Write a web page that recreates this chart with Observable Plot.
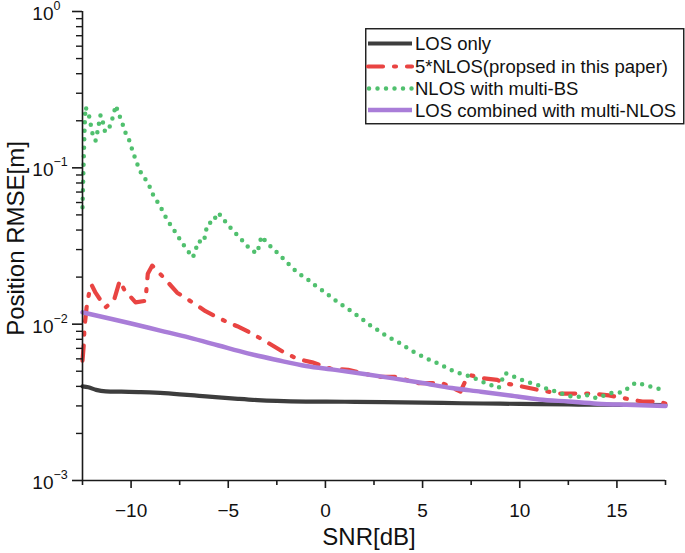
<!DOCTYPE html>
<html>
<head>
<meta charset="utf-8">
<script src="https://cdn.jsdelivr.net/npm/d3@7"></script>
<script src="https://cdn.jsdelivr.net/npm/@observablehq/plot@0.6"></script>
<style>
  html, body { margin: 0; padding: 0; background: #fff; }
  #wrap { position: relative; width: 685px; height: 553px; font-family: "Liberation Sans", Arial, sans-serif; }
  #legend { position: absolute; left: 365px; top: 28px; }
</style>
</head>
<body>
<div id="wrap"></div>
<script>
// ---- data ----
const seriesNames = ["LOS only", "5*NLOS(propsed in this paper)", "NLOS with multi-BS", "LOS combined with multi-NLOS"];
const seriesColors = ["#3d3d3d", "#e94442", "#50c06e", "#a97dd8"];

const losSnr = [-12.5, -12.2, -11.8, -11.3, -10.5, -9.5, -8.5, -7.5, -6.5, -5.5, -4.5, -3.5, -2.5, -1, 1, 3, 5, 7, 9, 11, 13, 15, 17.5];
const losVal = [0.0040, 0.00395, 0.0038, 0.00372, 0.0037, 0.00368, 0.00363, 0.00356, 0.00348, 0.0034, 0.00333, 0.00327, 0.00323, 0.0032, 0.00319, 0.00317, 0.00315, 0.00312, 0.0031, 0.00308, 0.00306, 0.00305, 0.00304];

const nlos5Snr = [-12.5, -12.43, -12.4, -12.29, -12.12, -12.04, -11.83, -11.32, -10.89, -10.58, -10.34, -9.77, -9.26, -9.14, -8.91, -8.23, -7.63, -6.85, -6.17, -5.4, -4.54, -3.85, -3.03, -2.22, -1.45, -0.68, 0.26, 1.17, 2.07, 2.84, 3.7, 4.64, 5.5, 6.01, 6.95, 7.3, 7.51, 8.14, 8.84, 9.18, 10.09, 10.94, 12.0, 12.7, 13.65, 14.59, 15.7, 16.31, 17.21, 17.5];
const nlos5Val = [0.00585, 0.0075, 0.0095, 0.0128, 0.0169, 0.0179, 0.0159, 0.0128, 0.0141, 0.019, 0.0165, 0.0138, 0.0141, 0.021, 0.0237, 0.0193, 0.0159, 0.0138, 0.0121, 0.0108, 0.0097, 0.0088, 0.0077, 0.0067, 0.006, 0.0057, 0.0052, 0.0051, 0.0048, 0.0046, 0.0046, 0.0042, 0.0042, 0.0042, 0.0037, 0.0046, 0.0047, 0.0045, 0.0044, 0.0042, 0.004, 0.0038, 0.0036, 0.0036, 0.0036, 0.0035, 0.0033, 0.0032, 0.0032, 0.0031];

const multiBsSnr = [-12.5, -12.45, -12.4, -12.35, -12.18, -12.09, -12.0, -11.83, -11.74, -11.57, -11.46, -11.35, -11.2, -11.02, -10.89, -10.79, -10.63, -10.46, -10.32, -10.12, -9.98, -9.82, -9.67, -9.51, -9.24, -9.0, -8.83, -8.57, -8.35, -8.14, -7.88, -7.63, -7.37, -7.11, -6.82, -6.68, -6.55, -6.26, -6.17, -6.08, -5.91, -5.74, -5.6, -5.36, -5.1, -4.8, -4.46, -4.15, -3.85, -3.51, -3.39, -3.29, -2.96, -2.62, -2.27, -1.93, -1.6, -1.23, -0.83, -0.46, -0.08, 0.3, 0.68, 1.09, 1.46, 1.84, 2.22, 2.62, 3.01, 3.42, 3.8, 4.18, 4.59, 5.0, 5.43, 5.87, 6.3, 6.75, 7.19, 7.61, 8.05, 8.47, 8.92, 9.23, 9.67, 10.09, 10.52, 10.98, 11.42, 11.84, 12.31, 12.72, 13.08, 13.48, 13.94, 14.37, 14.79, 15.23, 15.65, 15.96, 16.41, 16.85, 17.31];
const multiBsVal = [0.056, 0.1, 0.17, 0.245, 0.221, 0.193, 0.168, 0.149, 0.168, 0.218, 0.198, 0.172, 0.171, 0.195, 0.223, 0.251, 0.221, 0.195, 0.171, 0.153, 0.135, 0.118, 0.105, 0.094, 0.0836, 0.074, 0.0653, 0.0588, 0.0522, 0.0464, 0.0416, 0.0372, 0.0331, 0.0298, 0.0267, 0.0298, 0.0339, 0.0334, 0.0381, 0.0433, 0.0448, 0.0448, 0.0513, 0.0496, 0.0443, 0.0403, 0.0363, 0.033, 0.0298, 0.0285, 0.0326, 0.0365, 0.0326, 0.0298, 0.027, 0.0245, 0.0223, 0.0205, 0.019, 0.0174, 0.0162, 0.0149, 0.0137, 0.0127, 0.0118, 0.0109, 0.01, 0.00929, 0.00861, 0.00804, 0.0076, 0.00708, 0.0066, 0.00622, 0.00586, 0.00556, 0.0052, 0.0049, 0.00475, 0.00454, 0.0043, 0.0041, 0.00391, 0.00487, 0.00463, 0.00441, 0.00422, 0.00405, 0.00385, 0.00371, 0.00355, 0.00343, 0.00343, 0.00351, 0.00337, 0.00351, 0.00366, 0.00366, 0.00395, 0.00422, 0.00409, 0.00395, 0.00381];

const combSnr = [-12.5, -11, -10, -8.5, -7, -5.5, -4, -2.5, -1, 0.5, 2, 3.5, 5, 6.5, 8, 9.5, 11, 12.5, 14, 15.5, 17.5];
const combVal = [0.0119, 0.0108, 0.0101, 0.0091, 0.0082, 0.0073, 0.0065, 0.0059, 0.0054, 0.0051, 0.0048, 0.0045, 0.0042, 0.0039, 0.0037, 0.0035, 0.0033, 0.0032, 0.0031, 0.00305, 0.0030];

const xMajorTicks = [-10, -5, 0, 5, 10, 15];
const xMinorTicks = [-12.5, -7.5, -2.5, 2.5, 7.5, 12.5, 17.5];
const yMajorTicks = [1, 0.1, 0.01, 0.001];
const yTickBase = ["10", "10", "10", "10"];
const yTickExp = ["0", "\u22121", "\u22122", "\u22123"];
const yMinorTicks = [];
for (const e of [-3, -2, -1]) for (let m = 2; m <= 9; m++) yMinorTicks.push(m * Math.pow(10, e));

const xLabel = "SNR[dB]";
const yLabel = "Position RMSE[m]";

// ---- build ----
const zip = (xs, ys) => xs.map((s, i) => ({s, v: ys[i]}));
const los = zip(losSnr, losVal);
const nlos5 = zip(nlos5Snr, nlos5Val);
const multiBs = zip(multiBsSnr, multiBsVal);
const comb = zip(combSnr, combVal);
const yTickRows = yMajorTicks.map((v, i) => ({v, base: yTickBase[i], exp: yTickExp[i]}));

const font = "'Liberation Sans', Arial, sans-serif";
const fmt = d => d < 0 ? "\u2212" + Math.abs(d) : String(d);
const blank = () => "";

const chart = Plot.plot({
  width: 685, height: 553,
  marginLeft: 82, marginRight: 20, marginTop: 11, marginBottom: 73,
  style: {fontFamily: font, background: "#fff", color: "#111"},
  x: {domain: [-12.5, 17.5], axis: null},
  y: {type: "log", domain: [1e-3, 1], axis: null},
  marks: [
    Plot.line(los, {x: "s", y: "v", stroke: seriesColors[0], strokeWidth: 4.2, curve: "monotone-x"}),
    Plot.line(nlos5, {x: "s", y: "v", stroke: seriesColors[1], strokeWidth: 4.2, strokeDasharray: "15 11 2 11", strokeLinecap: "round", strokeLinejoin: "round"}),
    Plot.line(multiBs, {x: "s", y: "v", stroke: seriesColors[2], strokeWidth: 4.5, strokeDasharray: "0 8.5", strokeLinecap: "round", strokeLinejoin: "round"}),
    Plot.line(comb, {x: "s", y: "v", stroke: seriesColors[3], strokeWidth: 4.5, curve: "monotone-x"}),
    Plot.ruleY([1e-3], {stroke: "#1a1a1a", strokeWidth: 1.6}),
    Plot.ruleX([-12.5], {stroke: "#1a1a1a", strokeWidth: 1.6}),
    Plot.axisX(xMinorTicks, {tickSize: 5, tickFormat: blank, label: null, stroke: "#1a1a1a", strokeWidth: 1.6}),
    Plot.axisX(xMajorTicks, {tickSize: 8, tickPadding: 15, tickFormat: fmt, fontSize: 19, label: null, stroke: "#1a1a1a", strokeWidth: 1.6, fill: "#111"}),
    Plot.axisY(yMinorTicks, {tickSize: 6, tickFormat: blank, label: null, stroke: "#1a1a1a", strokeWidth: 1.4}),
    Plot.axisY(yMajorTicks, {tickSize: 10, tickFormat: blank, label: null, stroke: "#1a1a1a", strokeWidth: 1.6}),
    Plot.text(yTickRows, {y: "v", frameAnchor: "left", dx: -29, dy: 2.5, text: "base", textAnchor: "end", fontSize: 19, fill: "#111"}),
    Plot.text(yTickRows, {y: "v", frameAnchor: "left", dx: -29, dy: -5.5, text: "exp", textAnchor: "start", fontSize: 12.5, fill: "#111"}),
    Plot.text([xLabel], {frameAnchor: "bottom", dx: -5, dy: 64, text: d => d, textAnchor: "middle", fontSize: 24, fill: "#111"}),
    Plot.text([yLabel], {frameAnchor: "left", dx: -66, dy: -7.5, rotate: -90, text: d => d, textAnchor: "middle", lineAnchor: "middle", fontSize: 24, fill: "#111"})
  ]
});

const wrap = document.getElementById("wrap");
wrap.appendChild(chart);

// legend (inside plot area, upper right)
const legW = 318, legH = 95;
const rowsY = [15.5, 38.5, 60.5, 82];
const ns = "http://www.w3.org/2000/svg";
const leg = document.createElementNS(ns, "svg");
leg.setAttribute("id", "legend");
leg.setAttribute("width", legW + 2);
leg.setAttribute("height", legH + 2);
const box = document.createElementNS(ns, "rect");
box.setAttribute("x", 0.75); box.setAttribute("y", 0.75);
box.setAttribute("width", legW); box.setAttribute("height", legH);
box.setAttribute("fill", "#fff"); box.setAttribute("stroke", "#1a1a1a"); box.setAttribute("stroke-width", 1.4);
leg.appendChild(box);
const styles = [
  {w: 4.2, dash: null, cap: "butt"},
  {w: 4.2, dash: "15 11 2 11", cap: "round"},
  {w: 4.5, dash: "0 8.5", cap: "round"},
  {w: 4.5, dash: null, cap: "butt"}
];
seriesNames.forEach((name, i) => {
  const ln = document.createElementNS(ns, "line");
  ln.setAttribute("x1", i === 2 ? 4 : 3); ln.setAttribute("x2", 47);
  ln.setAttribute("y1", rowsY[i]); ln.setAttribute("y2", rowsY[i]);
  ln.setAttribute("stroke", seriesColors[i]);
  ln.setAttribute("stroke-width", styles[i].w);
  ln.setAttribute("stroke-linecap", styles[i].cap);
  if (styles[i].dash) ln.setAttribute("stroke-dasharray", styles[i].dash);
  leg.appendChild(ln);
  const t = document.createElementNS(ns, "text");
  t.setAttribute("x", 50); t.setAttribute("y", rowsY[i] + 6.5);
  t.setAttribute("font-family", font); t.setAttribute("font-size", 18.5);
  t.setAttribute("fill", "#111");
  t.textContent = name;
  leg.appendChild(t);
});
wrap.appendChild(leg);
</script>
</body>
</html>
